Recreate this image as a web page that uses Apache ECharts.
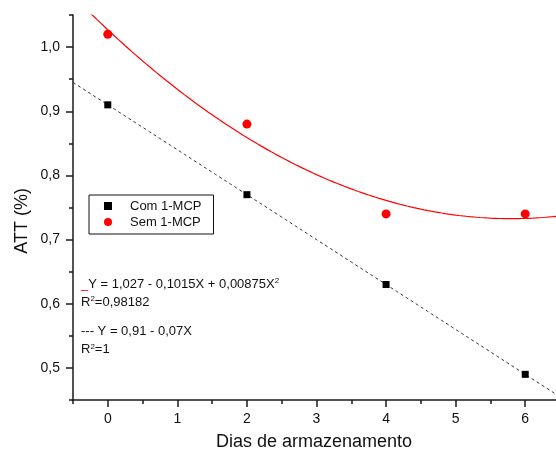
<!DOCTYPE html>
<html>
<head>
<meta charset="utf-8">
<script src="https://cdn.jsdelivr.net/npm/echarts@6/dist/echarts.min.js"></script>
<style>
  html, body { margin: 0; padding: 0; background: #fff; }
  #chart { width: 556px; height: 453px; }
</style>
</head>
<body>
<div id="chart"></div>
<script>
// Storage days and measured ATT (%)
var days = [0, 2, 4, 6];
var comMCP = [0.91, 0.77, 0.63, 0.49];
var semMCP = [1.02, 0.88, 0.74, 0.74];

// Regression coefficients (constant, X, X^2) as printed on the plot
var fitSem = [1.027, -0.1015, 0.00875];
var fitCom = [0.91, -0.07];

// Axis ticks
var xTicks = [0, 1, 2, 3, 4, 5, 6];
var xMinorTicks = [-0.5, 0.5, 1.5, 2.5, 3.5, 4.5, 5.5, 6.5];
var yTicks = [0.5, 0.6, 0.7, 0.8, 0.9, 1.0];
var yMinorTicks = [0.45, 0.55, 0.65, 0.75, 0.85, 0.95, 1.05];

var X_MIN = -0.5, X_MAX = 6.5, Y_MIN = 0.45, Y_MAX = 1.05;

function poly(coefs, x) {
  var y = 0;
  for (var i = 0; i < coefs.length; i++) y += coefs[i] * Math.pow(x, i);
  return y;
}
function fitLine(coefs) {
  var pts = [];
  for (var k = 0; k <= 140; k++) {
    var x = X_MIN + k * (X_MAX - X_MIN) / 140;
    pts.push([x, poly(coefs, x)]);
  }
  return pts;
}
function pairs(xs, ys) {
  return xs.map(function (x, i) { return [x, ys[i]]; });
}
function comma(v) { return v.toFixed(1).replace('.', ','); }

var FONT = 'Liberation Sans, Arial, sans-serif';
var AXIS_COLOR = '#1a1a1a';
var TEXT_COLOR = '#111';

var chart = echarts.init(document.getElementById('chart'), null, { renderer: 'canvas' });

var axisCommon = {
  type: 'value',
  splitLine: { show: false },
  minorTick: { show: false }
};

chart.setOption({
  animation: false,
  backgroundColor: '#fff',
  textStyle: { fontFamily: FONT },
  grid: { left: 73, top: 15, width: 487, height: 385, outerBoundsMode: 'none' },
  xAxis: [
    Object.assign({}, axisCommon, {
      min: X_MIN, max: X_MAX,
      position: 'bottom',
      axisLine: { show: true, onZero: false, lineStyle: { color: AXIS_COLOR, width: 1.5 } },
      axisTick: { show: true, inside: false, length: 7, customValues: xTicks,
                  lineStyle: { color: AXIS_COLOR, width: 1.5 } },
      axisLabel: { show: true, customValues: xTicks, margin: 12, color: TEXT_COLOR,
                   fontSize: 14, fontFamily: FONT,
                   formatter: function (v) { return String(v); } },
      name: 'Dias de armazenamento',
      nameLocation: 'middle',
      nameGap: 33,
      nameTextStyle: { fontSize: 18, color: TEXT_COLOR, fontFamily: FONT, padding: [0, 5, 0, 0] }
    }),
    Object.assign({}, axisCommon, {
      min: X_MIN, max: X_MAX,
      position: 'bottom',
      axisLine: { show: false, onZero: false },
      axisTick: { show: true, inside: false, length: 4, customValues: xMinorTicks,
                  lineStyle: { color: AXIS_COLOR, width: 1.5 } },
      axisLabel: { show: false }
    })
  ],
  yAxis: [
    Object.assign({}, axisCommon, {
      min: Y_MIN, max: Y_MAX,
      position: 'left',
      axisLine: { show: true, onZero: false, lineStyle: { color: AXIS_COLOR, width: 1.5 } },
      axisTick: { show: true, inside: false, length: 7, customValues: yTicks,
                  lineStyle: { color: AXIS_COLOR, width: 1.5 } },
      axisLabel: { show: true, customValues: yTicks, margin: 13, color: TEXT_COLOR,
                   fontSize: 14, fontFamily: FONT, formatter: comma }
    }),
    Object.assign({}, axisCommon, {
      min: Y_MIN, max: Y_MAX,
      position: 'left',
      axisLine: { show: false, onZero: false },
      axisTick: { show: true, inside: false, length: 4, customValues: yMinorTicks,
                  lineStyle: { color: AXIS_COLOR, width: 1.5 } },
      axisLabel: { show: false }
    })
  ],
  legend: {
    orient: 'vertical',
    left: 89,
    top: 195,
    padding: [3, 12, 4, 15],
    itemGap: 0,
    itemWidth: 8,
    itemHeight: 8,
    borderColor: '#111',
    borderWidth: 1,
    textStyle: { fontSize: 13, color: TEXT_COLOR, fontFamily: FONT, lineHeight: 16,
                 padding: [0, 0, 0, 13] },
    data: [
      { name: 'Com 1-MCP', icon: 'rect' },
      { name: 'Sem 1-MCP', icon: 'circle' }
    ]
  },
  graphic: [
    {
      type: 'text',
      left: 13, top: 188,
      rotation: Math.PI / 2,
      style: { text: 'ATT (%)', fontSize: 18, fill: TEXT_COLOR, fontFamily: FONT }
    },
    {
      type: 'text',
      left: 81, top: 275,
      style: {
        text: '{red|_}{n|Y = 1,027 - 0,1015X + 0,00875X}{s|2}\n{n|R}{s|2}{n|=0,98182}',
        fontFamily: FONT,
        rich: {
          n: { fontSize: 13, fill: TEXT_COLOR, lineHeight: 18, fontFamily: FONT },
          red: { fontSize: 13, fill: '#ff0000', lineHeight: 18, fontFamily: FONT },
          s: { fontSize: 8, fill: TEXT_COLOR, lineHeight: 18, verticalAlign: 'top',
               padding: [2, 0, 0, 0], fontFamily: FONT }
        }
      }
    },
    {
      type: 'text',
      left: 81, top: 325,
      style: {
        text: '{n|--- Y = 0,91 - 0,07X}\n{n|R}{s|2}{n|=1}',
        fontFamily: FONT,
        rich: {
          n: { fontSize: 13, fill: TEXT_COLOR, lineHeight: 18, fontFamily: FONT },
          s: { fontSize: 8, fill: TEXT_COLOR, lineHeight: 18, verticalAlign: 'top',
               padding: [2, 0, 0, 0], fontFamily: FONT }
        }
      }
    }
  ],
  series: [
    {
      name: 'fit-sem',
      type: 'line',
      data: fitLine(fitSem),
      showSymbol: false,
      clip: true,
      lineStyle: { color: '#ff0000', width: 1.2 },
      z: 2,
      silent: true
    },
    {
      name: 'fit-com',
      type: 'line',
      data: fitLine(fitCom),
      showSymbol: false,
      clip: true,
      lineStyle: { color: '#333', width: 1, type: [3, 3] },
      z: 2,
      silent: true
    },
    {
      name: 'Com 1-MCP',
      type: 'scatter',
      data: pairs(days, comMCP),
      symbol: 'rect',
      symbolSize: 7,
      itemStyle: { color: '#000', opacity: 1 },
      z: 3
    },
    {
      name: 'Sem 1-MCP',
      type: 'scatter',
      data: pairs(days, semMCP),
      symbol: 'circle',
      symbolSize: 9,
      itemStyle: { color: '#ff0000', opacity: 1 },
      z: 3
    }
  ]
});
</script>
</body>
</html>
